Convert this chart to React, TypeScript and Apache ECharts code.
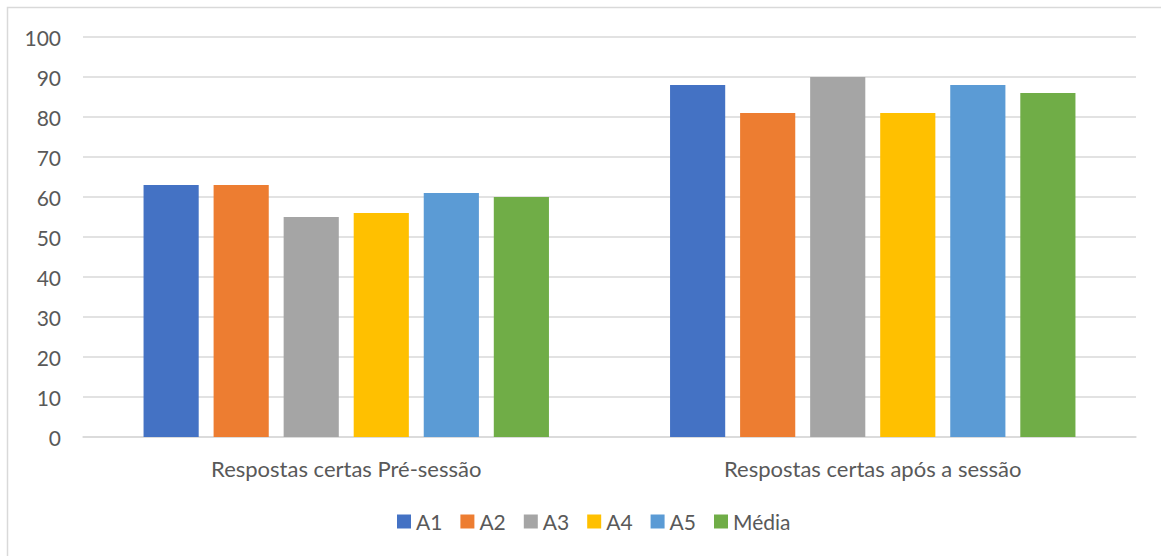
import React, { useEffect, useRef } from "react";
import * as echarts from "echarts";

const categories = ["Respostas certas Pré-sessão", "Respostas certas após a sessão"];
const seriesNames = ["A1", "A2", "A3", "A4", "A5", "Média"];
const seriesColors = ["#4472C4", "#ED7D31", "#A5A5A5", "#FFC000", "#5B9BD5", "#70AD47"];
const A1 = [63, 88];
const A2 = [63, 81];
const A3 = [55, 90];
const A4 = [56, 81];
const A5 = [61, 88];
const Media = [60, 86];
const seriesValues = [A1, A2, A3, A4, A5, Media];

const FONT = "Lato, 'Open Sans', sans-serif";

export default function App() {
  const ref = useRef<HTMLDivElement>(null);
  useEffect(() => {
    if (!ref.current) return;
    const chart = echarts.init(ref.current, null, { renderer: "svg" });
    chart.setOption({
      animation: false,
      backgroundColor: "#ffffff",
      textStyle: { fontFamily: FONT, color: "#595959" },
      graphic: [
        {
          type: "rect",
          shape: { x: 7.5, y: 7.5, width: 1170, height: 570 },
          style: { fill: "none", stroke: "#d9d9d9", lineWidth: 1.5 },
          silent: true,
        },
      ],
      grid: { left: 83, right: 25, top: 37, bottom: 119 },
      legend: {
        top: 506,
        left: 392,
        itemWidth: 14,
        itemHeight: 14,
        itemGap: 18,
        icon: "rect",
        textStyle: { fontFamily: FONT, fontSize: 21, color: "#595959" },
        data: seriesNames,
      },
      xAxis: {
        type: "category",
        data: categories,
        axisLine: { lineStyle: { color: "#d9d9d9", width: 1.5 } },
        axisTick: { show: false },
        axisLabel: { fontFamily: FONT, fontSize: 22, color: "#595959", margin: 20 },
      },
      yAxis: {
        type: "value",
        min: 0,
        max: 100,
        interval: 10,
        axisLine: { show: false },
        axisTick: { show: false },
        splitLine: { lineStyle: { color: "#d9d9d9", width: 1.5 } },
        axisLabel: { fontFamily: FONT, fontSize: 21, color: "#595959", margin: 22 },
      },
      series: seriesNames.map((name, i) => ({
        name,
        type: "bar",
        data: seriesValues[i],
        itemStyle: { color: seriesColors[i] },
        barGap: "27%",
        barCategoryGap: "23%",
      })),
    });
    return () => chart.dispose();
  }, []);
  return (
    <div
      ref={ref}
      style={{ position: "fixed", left: 0, top: 0, width: 1161, height: 556 }}
    />
  );
}
